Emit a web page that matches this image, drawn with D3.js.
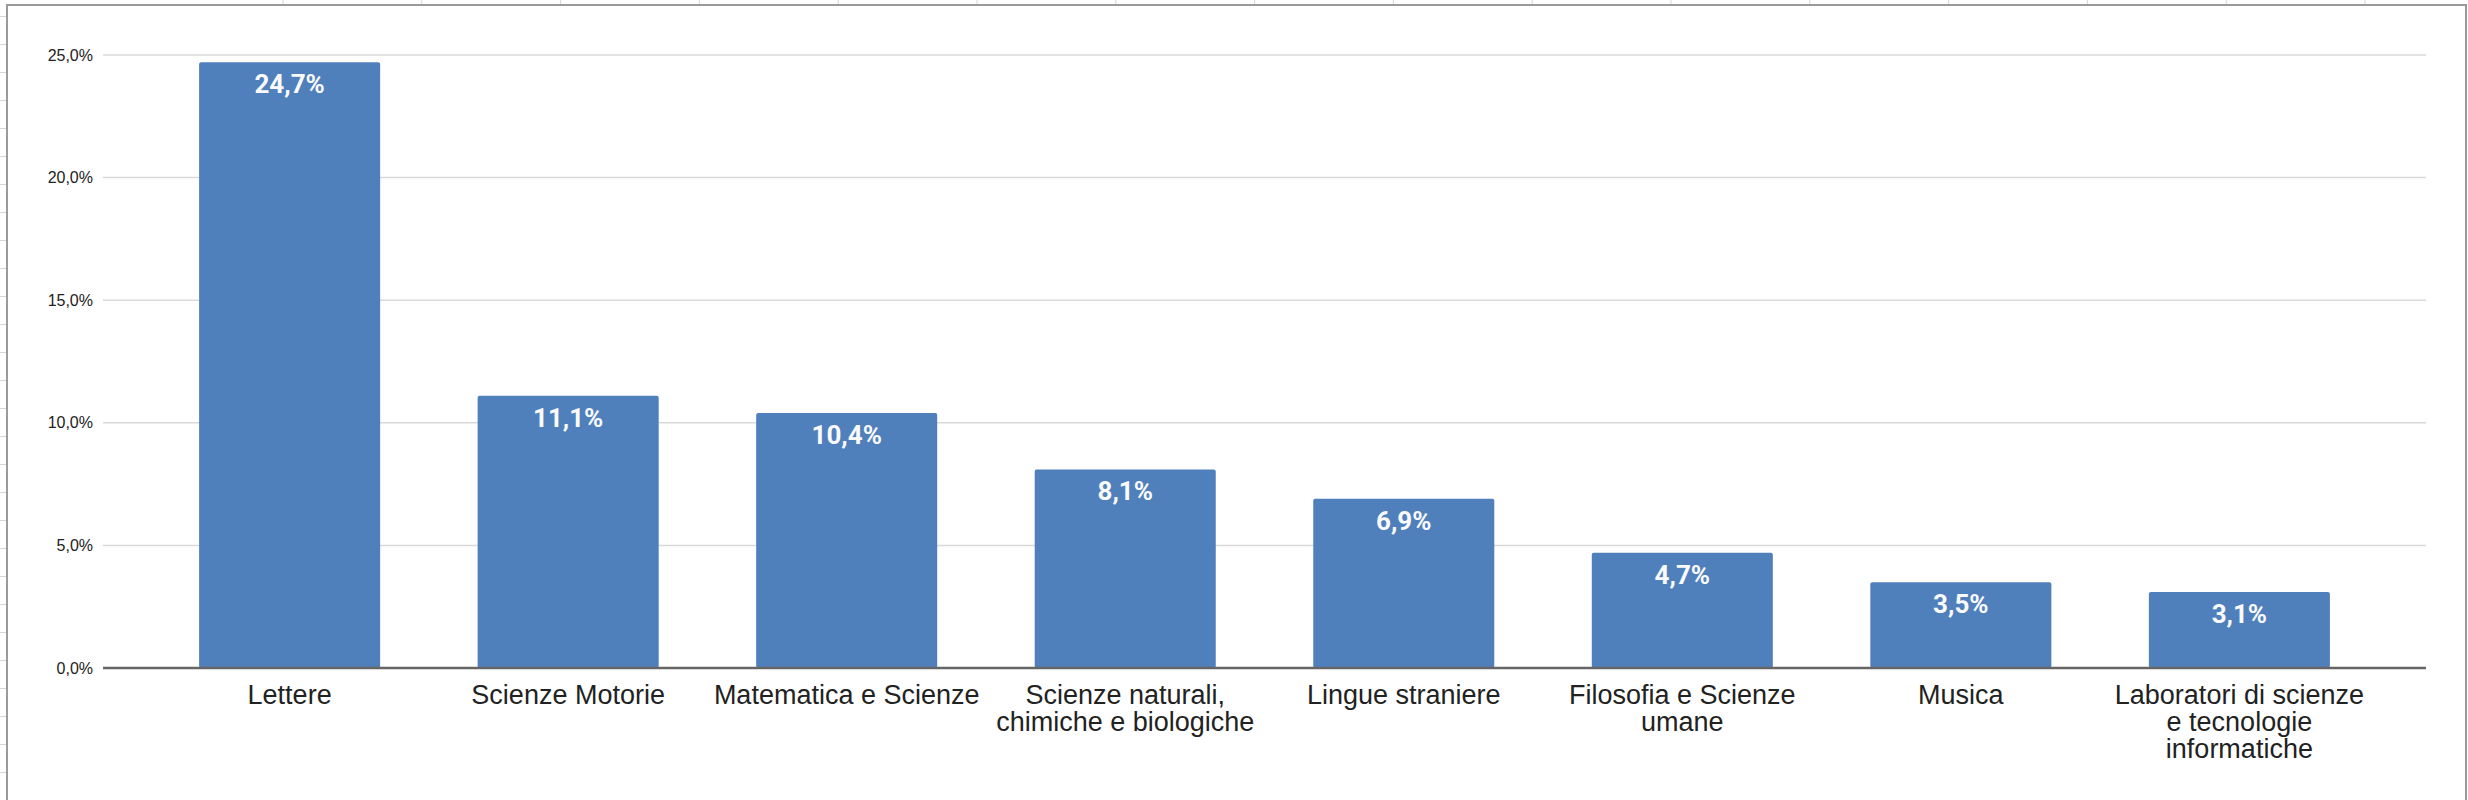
<!DOCTYPE html>
<html>
<head>
<meta charset="utf-8">
<script src="https://cdn.jsdelivr.net/npm/d3@7"></script>
<style>
  body { margin: 0; background: #fff; }
  svg { display: block; }
</style>
</head>
<body>
<div id="chart"></div>
<script>
// categories (line breaks as in the original labels)
var categories = [
  "Lettere",
  "Scienze Motorie",
  "Matematica e Scienze",
  "Scienze naturali,\nchimiche e biologiche",
  "Lingue straniere",
  "Filosofia e Scienze\numane",
  "Musica",
  "Laboratori di scienze\ne tecnologie\ninformatiche"
];
var values = [24.7, 11.1, 10.4, 8.1, 6.9, 4.7, 3.5, 3.1];
var yTicks = [0, 5, 10, 15, 20, 25];

var width = 2468, height = 800;
var plotLeft = 103, plotRight = 2426, plotTop = 55, plotBottom = 668;

var data = categories.map(function(c, i) { return {name: c, value: values[i]}; });

var svg = d3.select('#chart').append('svg')
  .attr('width', width)
  .attr('height', height);

// spreadsheet cells behind the chart
var bg = svg.append('g').attr('stroke', '#d6d6d6').attr('stroke-width', 1);
bg.selectAll('line.col')
  .data(d3.range(283, width, 138.8))
  .enter().append('line')
  .attr('x1', function(d) { return d; }).attr('x2', function(d) { return d; })
  .attr('y1', 0).attr('y2', 5);
bg.selectAll('line.row')
  .data(d3.range(16, height, 28))
  .enter().append('line')
  .attr('x1', 0).attr('x2', 7)
  .attr('y1', function(d) { return d + 0.5; }).attr('y2', function(d) { return d + 0.5; });

// chart frame
svg.append('rect')
  .attr('x', 7).attr('y', 5)
  .attr('width', 2459).attr('height', 810)
  .attr('fill', '#fff')
  .attr('stroke', '#9a9a9a')
  .attr('stroke-width', 2);

var x = d3.scaleBand()
  .domain(categories)
  .range([plotLeft, plotRight])
  .paddingInner(0.35)
  .paddingOuter(0.345);

var y = d3.scaleLinear()
  .domain([0, 25])
  .range([plotBottom, plotTop]);

var fmt = function(v) { return d3.format('.1f')(v).replace('.', ',') + '%'; };

// gridlines
svg.append('g').selectAll('line')
  .data(yTicks.filter(function(t) { return t > 0; }))
  .enter().append('line')
  .attr('x1', plotLeft).attr('x2', plotRight)
  .attr('y1', function(d) { return y(d); })
  .attr('y2', function(d) { return y(d); })
  .attr('stroke', '#d9d9d9')
  .attr('stroke-width', 1.5);

// y axis labels
var yAxis = svg.append('g')
  .attr('transform', 'translate(' + plotLeft + ',0)')
  .call(d3.axisLeft(y).tickValues(yTicks).tickFormat(fmt).tickSize(0).tickPadding(10));
yAxis.select('.domain').remove();
yAxis.selectAll('text')
  .attr('font-family', 'Arial, "Liberation Sans", sans-serif')
  .attr('font-size', 16)
  .attr('fill', '#222');

// bars
svg.append('g').selectAll('rect')
  .data(data)
  .enter().append('rect')
  .attr('x', function(d) { return x(d.name); })
  .attr('y', function(d) { return y(d.value); })
  .attr('width', x.bandwidth())
  .attr('height', function(d) { return y(0) - y(d.value); })
  .attr('rx', 2)
  .attr('fill', '#4f80bc');

// value labels inside bars
svg.append('g').selectAll('text')
  .data(data)
  .enter().append('text')
  .attr('x', function(d) { return x(d.name) + x.bandwidth() / 2; })
  .attr('y', function(d) { return y(d.value) + 31; })
  .attr('text-anchor', 'middle')
  .attr('font-family', 'Roboto, Arial, sans-serif')
  .attr('font-weight', 'bold')
  .attr('font-size', 26)
  .attr('fill', '#fafafa')
  .text(function(d) { return fmt(d.value); });

// baseline
svg.append('line')
  .attr('x1', plotLeft).attr('x2', plotRight)
  .attr('y1', y(0)).attr('y2', y(0))
  .attr('stroke', '#666')
  .attr('stroke-width', 2.5);

// category labels
var xl = svg.append('g').selectAll('text')
  .data(data)
  .enter().append('text')
  .attr('text-anchor', 'middle')
  .attr('font-family', 'Arial, "Liberation Sans", sans-serif')
  .attr('font-size', 27)
  .attr('fill', '#222')
  .attr('transform', function(d) {
    return 'translate(' + (x(d.name) + x.bandwidth() / 2) + ',' + (y(0) + 36) + ')';
  });
xl.selectAll('tspan')
  .data(function(d) { return d.name.split('\n'); })
  .enter().append('tspan')
  .attr('x', 0)
  .attr('dy', function(d, i) { return i === 0 ? 0 : 27; })
  .text(function(d) { return d; });
</script>
</body>
</html>
